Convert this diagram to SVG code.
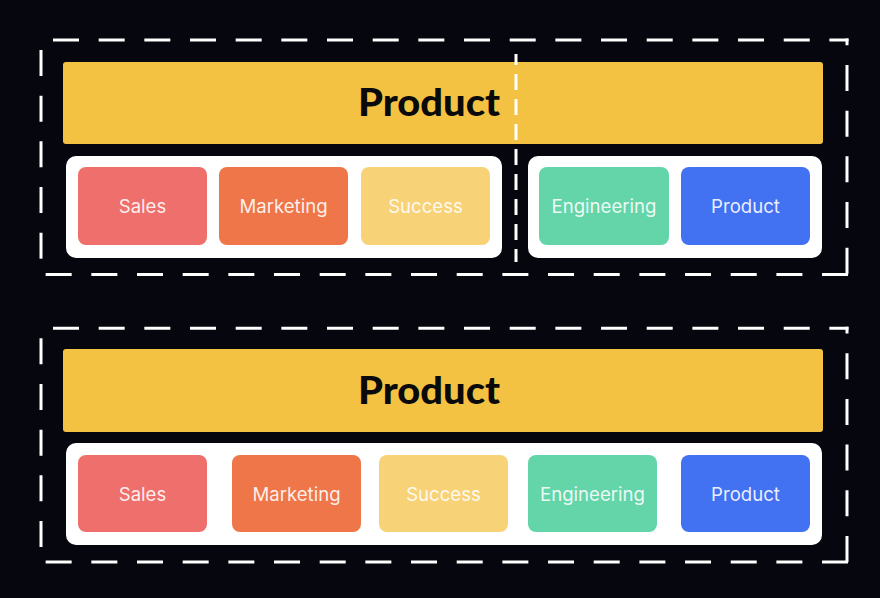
<svg xmlns="http://www.w3.org/2000/svg" width="880" height="598" viewBox="0 0 880 598">
  <style>
    .frame { stroke: #FFFFFF; stroke-width: 3; fill: none; stroke-dasharray: 26 19.67; }
    .divider { stroke: #FFFFFF; stroke-width: 3; fill: none; stroke-dasharray: 16 9; }
    .bar { fill: #F3C242; }
    .panel { fill: #FFFFFF; }
    .title { font-family: Lato, "Liberation Sans", sans-serif; font-weight: 900; font-size: 37px; fill: #0A0A0A; text-anchor: middle; }
    .label { font-family: Inter, "Liberation Sans", sans-serif; font-weight: 400; font-size: 18.6px; fill: #FFFFFF; fill-opacity: 0.9; text-anchor: middle; }
    .sales { fill: #EE6F6B; }
    .marketing { fill: #EE7648; }
    .success { fill: #F8D277; }
    .engineering { fill: #63D5A9; }
    .product { fill: #4272F1; }
  </style>
  <rect x="0" y="0" width="880" height="598" fill="#06060E"/>

  <g id="org-top">
    <g id="top-frame">
      <line class="frame" x1="41" y1="40" x2="848.5" y2="40" stroke-dashoffset="-12"/>
      <line class="frame" x1="847" y1="38.5" x2="847" y2="274.5" stroke-dashoffset="19.2"/>
      <line class="frame" x1="41" y1="274.5" x2="848.5" y2="274.5" stroke-dashoffset="-4.67"/>
      <line class="frame" x1="41" y1="40" x2="41" y2="275" stroke-dashoffset="-10"/>
    </g>
    <g id="top-product-bar">
      <rect class="bar" x="63" y="62" width="760" height="82" rx="3"/>
      <text class="title" x="429" y="115.5" textLength="142" lengthAdjust="spacingAndGlyphs">Product</text>
    </g>
    <g id="top-panel-left">
      <rect class="panel" x="66" y="156" width="436" height="102" rx="10"/>
    </g>
    <g id="top-panel-right">
      <rect class="panel" x="528" y="156" width="294" height="102" rx="10"/>
    </g>
    <g id="top-sales">
      <rect class="sales" x="78" y="167" width="129" height="78" rx="8"/>
      <text class="label" x="142.5" y="213">Sales</text>
    </g>
    <g id="top-marketing">
      <rect class="marketing" x="219" y="167" width="129" height="78" rx="8"/>
      <text class="label" x="283.5" y="213">Marketing</text>
    </g>
    <g id="top-success">
      <rect class="success" x="361" y="167" width="129" height="78" rx="8"/>
      <text class="label" x="425.5" y="213">Success</text>
    </g>
    <g id="top-engineering">
      <rect class="engineering" x="539" y="167" width="130" height="78" rx="8"/>
      <text class="label" x="604" y="213">Engineering</text>
    </g>
    <g id="top-product">
      <rect class="product" x="681" y="167" width="129" height="78" rx="8"/>
      <text class="label" x="745.5" y="213">Product</text>
    </g>
  </g>

  <g id="connectors">
    <line class="divider" x1="516" y1="54" x2="516" y2="262" stroke-dashoffset="5"/>
  </g>

  <g id="org-bottom">
    <g id="bottom-frame">
      <line class="frame" x1="41" y1="328.3" x2="848.5" y2="328.3" stroke-dashoffset="-12"/>
      <line class="frame" x1="847" y1="326.8" x2="847" y2="562.3" stroke-dashoffset="19.2"/>
      <line class="frame" x1="41" y1="562" x2="848.5" y2="562" stroke-dashoffset="-4.67"/>
      <line class="frame" x1="41" y1="328.3" x2="41" y2="563" stroke-dashoffset="-10"/>
    </g>
    <g id="bottom-product-bar">
      <rect class="bar" x="63" y="349" width="760" height="83" rx="3"/>
      <text class="title" x="429" y="403.5" textLength="142" lengthAdjust="spacingAndGlyphs">Product</text>
    </g>
    <g id="bottom-panel">
      <rect class="panel" x="66" y="443" width="756" height="102" rx="10"/>
    </g>
    <g id="bottom-sales">
      <rect class="sales" x="78" y="455" width="129" height="77" rx="8"/>
      <text class="label" x="142.5" y="500.5">Sales</text>
    </g>
    <g id="bottom-marketing">
      <rect class="marketing" x="232" y="455" width="129" height="77" rx="8"/>
      <text class="label" x="296.5" y="500.5">Marketing</text>
    </g>
    <g id="bottom-success">
      <rect class="success" x="379" y="455" width="129" height="77" rx="8"/>
      <text class="label" x="443.5" y="500.5">Success</text>
    </g>
    <g id="bottom-engineering">
      <rect class="engineering" x="528" y="455" width="129" height="77" rx="8"/>
      <text class="label" x="592.5" y="500.5">Engineering</text>
    </g>
    <g id="bottom-product">
      <rect class="product" x="681" y="455" width="129" height="77" rx="8"/>
      <text class="label" x="745.5" y="500.5">Product</text>
    </g>
  </g>
</svg>
